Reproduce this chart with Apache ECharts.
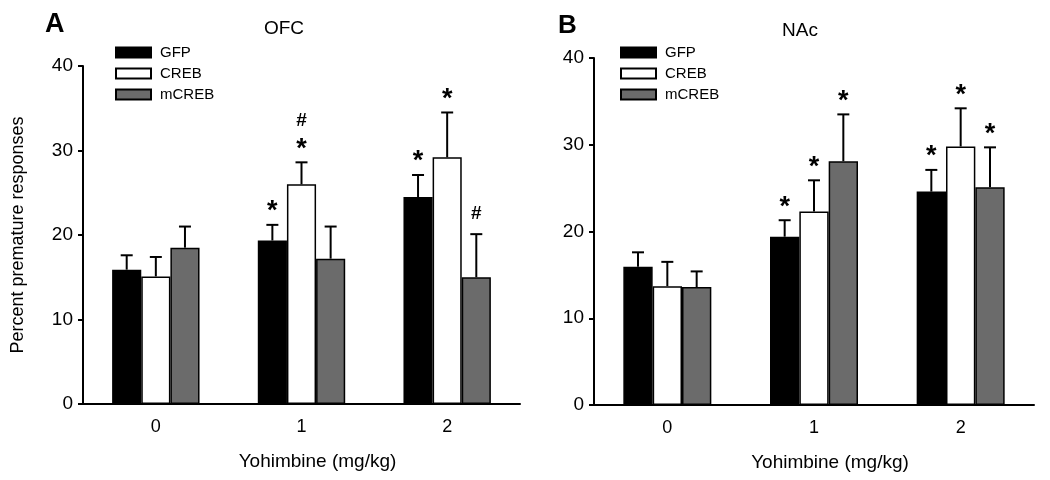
<!DOCTYPE html>
<html>
<head>
<meta charset="utf-8">
<script src="https://cdn.jsdelivr.net/npm/echarts@6/dist/echarts.min.js"></script>
<style>html,body{margin:0;padding:0;background:#fff;}#c{width:1050px;height:480px;}</style>
</head>
<body>
<div id="c"></div>
<script>
// ---- data ----
var categories = ['0', '1', '2'];
var seriesNames = ['GFP', 'CREB', 'mCREB'];
var yTicks = [0, 10, 20, 30, 40];

// Panel A: OFC (means and mean+SEM)
var ofcGFP = [15.9, 19.35, 24.5];
var ofcGFPErr = [17.6, 21.2, 27.1];
var ofcCREB = [15.1, 26.0, 29.2];
var ofcCREBErr = [17.4, 28.6, 34.5];
var ofcMCREB = [18.5, 17.2, 15.0];
var ofcMCREBErr = [21.0, 21.0, 20.1];
var ofcAnnGFP = ['', '*', '*'];
var ofcAnnCREB = ['', '*#', '*'];
var ofcAnnMCREB = ['', '', '#'];

// Panel B: NAc
var nacGFP = [15.95, 19.4, 24.6];
var nacGFPErr = [17.6, 21.3, 27.1];
var nacCREB = [13.7, 22.3, 29.8];
var nacCREBErr = [16.5, 25.9, 34.2];
var nacMCREB = [13.6, 28.1, 25.1];
var nacMCREBErr = [15.4, 33.5, 29.7];
var nacAnnGFP = ['', '*', '*'];
var nacAnnCREB = ['', '*', '*'];
var nacAnnMCREB = ['', '*', '*'];

// ---- styles ----
var FONT = 'Liberation Sans, Arial, sans-serif';
var fills = ['#000000', '#ffffff', '#6b6b6b'];

function errData(means, errs) {
  return means.map(function (m, i) { return [i, m, errs[i]]; });
}

function makeRender(k, anns) {
  return function (params, api) {
    var c = api.value(0), m = api.value(1), e = api.value(2);
    var ann = anns[params.dataIndex] || '';
    var p0 = api.coord([c, m]);
    var p1 = api.coord([c, e]);
    var band = api.size([1, 0])[0];
    var bw = band * 0.2;
    var x = p0[0] + (k - 1) * bw;
    var children = [
      { type: 'line', shape: { x1: x, y1: p0[1], x2: x, y2: p1[1] }, style: { stroke: '#000', lineWidth: 2 } },
      { type: 'line', shape: { x1: x - 6, y1: p1[1], x2: x + 6, y2: p1[1] }, style: { stroke: '#000', lineWidth: 2 } }
    ];
    for (var i = 0; i < ann.length; i++) {
      var ch = ann[i];
      var cy = p1[1] - 20 - i * 22;
      var isStar = ch === '*';
      children.push({
        type: 'text',
        style: {
          text: ch, x: x, y: cy + (isStar ? 7 : 0),
          textAlign: 'center', textVerticalAlign: 'middle',
          font: 'bold ' + (isStar ? 27 : 19) + 'px ' + FONT, fill: '#000'
        }
      });
    }
    return { type: 'group', children: children };
  };
}

function barSeries(name, data, idx, k) {
  return {
    name: name, type: 'bar', xAxisIndex: idx, yAxisIndex: idx, data: data,
    barWidth: '20%', barGap: '0%',
    itemStyle: { color: fills[k], borderColor: '#000', borderWidth: 1.5 },
    emphasis: { disabled: true }, animation: false
  };
}
function errSeries(means, errs, anns, idx, k) {
  return {
    type: 'custom', xAxisIndex: idx, yAxisIndex: idx, z: 5,
    data: errData(means, errs), renderItem: makeRender(k, anns),
    encode: { x: 0, y: [1, 2] }, animation: false, silent: true
  };
}

function xAxisCfg(idx) {
  return {
    type: 'category', gridIndex: idx, data: categories,
    axisLine: { lineStyle: { color: '#000', width: 2 } },
    axisTick: { alignWithLabel: true, length: 6, lineStyle: { width: 2, color: '#000' } },
    axisLabel: { color: '#000', fontSize: 18, fontFamily: FONT, margin: 14 },
    name: 'Yohimbine (mg/kg)', nameLocation: 'middle', nameGap: 48,
    nameTextStyle: { color: '#000', fontSize: 19, fontFamily: FONT, padding: [0, 0, 0, 32] }
  };
}
function yAxisCfg(idx, withName) {
  var c = {
    type: 'value', gridIndex: idx, min: yTicks[0], max: yTicks[yTicks.length - 1], interval: 10,
    axisLine: { show: true, lineStyle: { color: '#000', width: 2 } },
    axisTick: { show: true, length: 5, lineStyle: { width: 2, color: '#000' } },
    axisLabel: { color: '#000', fontSize: 19, fontFamily: FONT, margin: 10 },
    splitLine: { show: false }
  };
  if (withName) {
    c.name = 'Percent premature responses';
    c.nameLocation = 'middle';
    c.nameGap = 56;
    c.nameTextStyle = { color: '#000', fontSize: 18, fontFamily: FONT };
  }
  return c;
}

function legendCfg(left, top) {
  return {
    data: seriesNames.map(function (n) { return { name: n, icon: 'rect' }; }),
    left: left, top: top, orient: 'vertical', padding: 0,
    itemWidth: 35, itemHeight: 10, itemGap: 6, selectedMode: false,
    textStyle: { fontSize: 15, fontFamily: FONT, color: '#000', lineHeight: 15, padding: [0, 0, 0, 4] }
  };
}

var chart = echarts.init(document.getElementById('c'), null, { renderer: 'canvas' });
chart.setOption({
  backgroundColor: '#fff',
  animation: false,
  grid: [
    { left: 83, top: 66, width: 437, height: 338 },
    { left: 594, top: 58, width: 440, height: 347 }
  ],
  xAxis: [xAxisCfg(0), xAxisCfg(1)],
  yAxis: [yAxisCfg(0, true), yAxisCfg(1, false)],
  legend: [legendCfg(115, 45), legendCfg(620, 45)],
  graphic: [
    { type: 'text', left: 45, top: 11, style: { text: 'A', font: 'bold 27px ' + FONT, fill: '#000' } },
    { type: 'text', left: 558, top: 13, style: { text: 'B', font: 'bold 26px ' + FONT, fill: '#000' } },
    { type: 'text', x: 284, y: 29, style: { text: 'OFC', font: '19px ' + FONT, fill: '#000', textAlign: 'center', textVerticalAlign: 'middle' } },
    { type: 'text', x: 800, y: 31, style: { text: 'NAc', font: '19px ' + FONT, fill: '#000', textAlign: 'center', textVerticalAlign: 'middle' } }
  ],
  series: [
    barSeries('GFP', ofcGFP, 0, 0),
    barSeries('CREB', ofcCREB, 0, 1),
    barSeries('mCREB', ofcMCREB, 0, 2),
    errSeries(ofcGFP, ofcGFPErr, ofcAnnGFP, 0, 0),
    errSeries(ofcCREB, ofcCREBErr, ofcAnnCREB, 0, 1),
    errSeries(ofcMCREB, ofcMCREBErr, ofcAnnMCREB, 0, 2),
    barSeries('GFP', nacGFP, 1, 0),
    barSeries('CREB', nacCREB, 1, 1),
    barSeries('mCREB', nacMCREB, 1, 2),
    errSeries(nacGFP, nacGFPErr, nacAnnGFP, 1, 0),
    errSeries(nacCREB, nacCREBErr, nacAnnCREB, 1, 1),
    errSeries(nacMCREB, nacMCREBErr, nacAnnMCREB, 1, 2)
  ]
});
</script>
</body>
</html>
